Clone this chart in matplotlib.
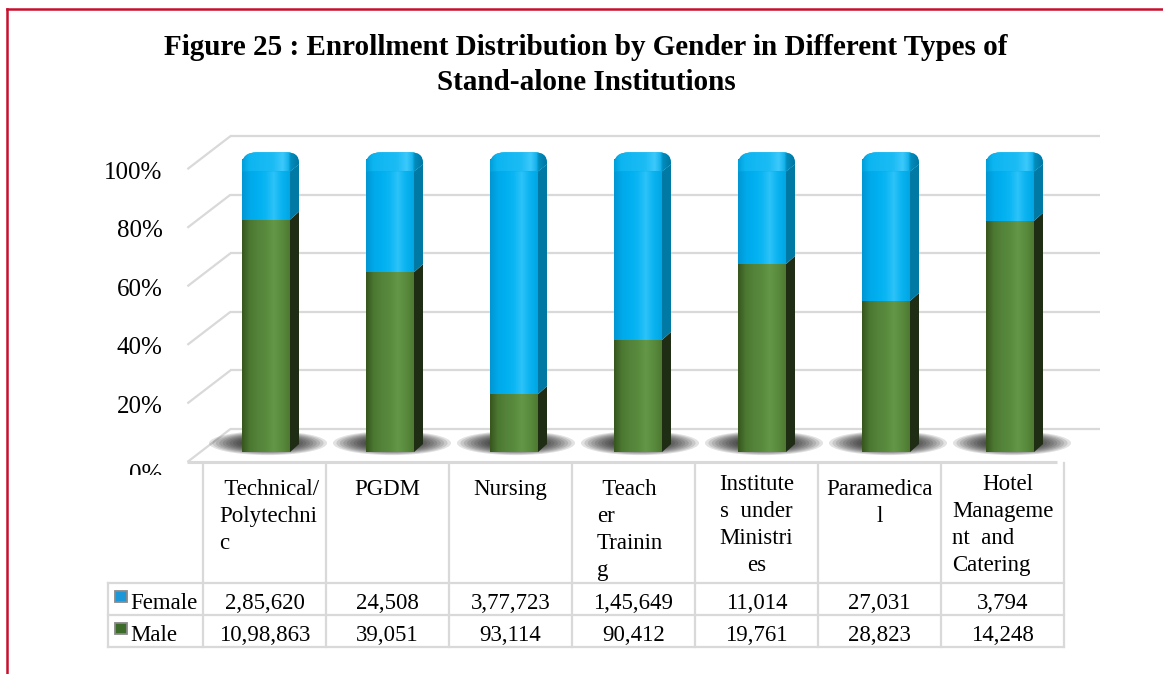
import numpy as np
import matplotlib
matplotlib.use("Agg")
import matplotlib.pyplot as plt
from matplotlib.patches import Rectangle, Polygon, Ellipse, PathPatch
from matplotlib.path import Path
from matplotlib.colors import LinearSegmentedColormap
from matplotlib.lines import Line2D
from matplotlib.transforms import Bbox, TransformedBbox, blended_transform_factory

# ---------------- data ----------------
title = ("Figure 25 : Enrollment Distribution by Gender in Different Types of\n"
         "Stand-alone Institutions")
categories = ["Technical/Polytechnic", "PGDM", "Nursing", "Teacher Training",
              "Institutes under Ministries", "Paramedical",
              "Hotel Management and Catering"]
header_lines = [[" Technical/", "Polytechni", "c"],
                ["PGDM"],
                ["Nursing"],
                [" Teach", "er", "Trainin", "g"],
                ["Institute", "s  under", "Ministri", "es"],
                ["Paramedica", "l"],
                ["Hotel", "Manageme", "nt  and", "Catering"]]
series_names = ["Female", "Male"]
female = np.array([285620, 24508, 377723, 145649, 11014, 27031, 3794], float)
male = np.array([1098863, 39051, 93114, 90412, 19761, 28823, 14248], float)
female_labels = ["2,85,620", "24,508", "3,77,723", "1,45,649", "11,014", "27,031", "3,794"]
male_labels = ["10,98,863", "39,051", "93,114", "90,412", "19,761", "28,823", "14,248"]
ytick_values = [0, 20, 40, 60, 80, 100]
ytick_labels = ["0%", "20%", "40%", "60%", "80%", "100%"]

male_pct = 100 * male / (male + female)
female_pct = 100 - male_pct

# ---------------- style ----------------
SERIF = "Liberation Serif"
GRID = "#D9D9D9"
GREEN = "#548235"
GREEN_SIDE = "#1F2D14"
BLUE = "#00B0F0"
BLUE_SIDE = "#0079A4"
GREEN_PROFILE = ["#36561F", "#4C7931", "#54833A", "#598A3D", "#639847", "#5A8B3D", "#4D7A31"]
BLUE_PROFILE = ["#0096D2", "#00A9EA", "#00B0F0", "#0CB6F3", "#2CC3F9", "#0AB3F0", "#00A6E4"]
CAP_PROFILE = [(0.0, "#009ED8"), (0.12, "#0DB5F0"), (0.55, "#1CBCF5"), (0.72, "#3CC9FB"),
               (0.82, "#14B2EC"), (0.86, "#008CBC"), (1.0, "#0076A2")]

W_PX, H_PX = 1163, 674
fig = plt.figure(figsize=(W_PX / 100, H_PX / 100), dpi=100)
fig.patch.set_facecolor("white")

# ---------------- main (bar) axes ----------------
XMIN, XMAX, YMIN, YMAX = -1, 7, -8.5, 110
AX_W, AX_H = 992, 347
ax = fig.add_axes([142 / W_PX, 1 - 477 / H_PX, AX_W / W_PX, AX_H / H_PX])
ax.axis("off")
ux = (XMAX - XMIN) / AX_W   # data units per pixel (x)
uy = (YMAX - YMIN) / AX_H   # data units per pixel (y)

DX, DY = 43 * ux, 33 * uy     # depth of the 3-D box
XL, XR = -0.53, 6.48          # box extent in the bar plane
n = len(categories)
x = np.arange(n)

# back wall gridlines + left wall diagonals + floor
gkw = dict(color=GRID, lw=1.6, solid_capstyle="butt", zorder=1)
for v in ytick_values:
    yb, yf = v + 0.7 * DY, v - 0.3 * DY
    ax.plot([XL + 0.7 * DX, XR + 0.7 * DX], [yb, yb], **gkw)
    ax.plot([XL - 0.3 * DX, XL + 0.7 * DX], [yf, yb], **gkw)
ax.plot([XL - 0.3 * DX, XR - 0.3 * DX], [-0.3 * DY, -0.3 * DY], color=GRID, lw=2.2,
        solid_capstyle="butt", zorder=1)

# y tick labels
clip_trans = blended_transform_factory(fig.transFigure, ax.transData)
for v, lab in zip(ytick_values, ytick_labels):
    yf = v - 0.3 * DY
    if v == 0:
        t = ax.text(XL - 0.3 * DX - 25 * ux, yf - 19 * uy, lab, ha="right", va="baseline",
                    fontsize=18, family=SERIF, color="black")
        clip = TransformedBbox(Bbox([[0, yf - 13 * uy], [1, YMAX]]), clip_trans)
        t.set_clip_box(clip)
        t.set_clip_on(True)
    else:
        ax.text(XL - 0.3 * DX - 25 * ux, yf - 9.5 * uy, lab, ha="right", va="baseline",
                fontsize=18, family=SERIF, color="black")

# floor shadows
for i in x:
    for k in range(14):
        s = 1 - k * 0.058
        ax.add_patch(Ellipse((i + 2 * ux, 9 * uy), 118 * s * ux, 24 * s * uy,
                             facecolor="#111111", alpha=0.12, lw=0, zorder=2))

# bars (front faces)
bw = 48 * ux
male_bars = ax.bar(x, male_pct, width=bw, color=GREEN, lw=0, zorder=3)
female_bars = ax.bar(x, female_pct, bottom=male_pct, width=bw, color=BLUE, lw=0, zorder=3)

grad = np.linspace(0, 1, 128).reshape(1, -1)
cm_green = LinearSegmentedColormap.from_list("g", GREEN_PROFILE)
cm_blue = LinearSegmentedColormap.from_list("b", BLUE_PROFILE)
cm_cap = LinearSegmentedColormap.from_list("c", CAP_PROFILE)


def shade(bar, cmap):
    x0, y0 = bar.get_x(), bar.get_y()
    w, h = bar.get_width(), bar.get_height()
    im = ax.imshow(grad, cmap=cmap, extent=(x0, x0 + w, y0, y0 + h), aspect="auto",
                   interpolation="bilinear", zorder=3.1)
    im.set_clip_path(bar)


for b in male_bars:
    shade(b, cm_green)
for b in female_bars:
    shade(b, cm_blue)

# side faces
sx, sy = 9 * ux, 8 * uy
for i in x:
    xr = i + bw / 2
    m = male_pct[i]
    ax.add_patch(Polygon([(xr, 0), (xr + sx, sy), (xr + sx, m + sy), (xr, m)],
                         closed=True, facecolor=GREEN_SIDE, lw=0, zorder=3.2))
    ax.add_patch(Polygon([(xr, m), (xr + sx, m + sy), (xr + sx, 100 - 5 * uy), (xr, 100 - 12 * uy)],
                         closed=True, facecolor=BLUE_SIDE, lw=0, zorder=3.2))

# rounded caps
Wc, Sc = 48, 9
cap_pts = [(0, -12), (0, -6), (0, 7), (15, 7), (Wc - 3, 7), (Wc + Sc, 7), (Wc + Sc, -4),
           (Wc + Sc, -5), (Wc, -12), (0, -12)]
cap_codes = [Path.MOVETO, Path.LINETO, Path.CURVE3, Path.CURVE3, Path.LINETO, Path.CURVE3,
             Path.CURVE3, Path.LINETO, Path.LINETO, Path.CLOSEPOLY]
for i in x:
    x0 = i - bw / 2
    verts = [(x0 + px * ux, 100 + py * uy) for px, py in cap_pts]
    patch = PathPatch(Path(verts, cap_codes), facecolor=BLUE, lw=0, zorder=3.3)
    ax.add_patch(patch)
    im = ax.imshow(grad, cmap=cm_cap,
                   extent=(x0, x0 + (Wc + Sc) * ux, 100 - 12 * uy, 100 + 7 * uy),
                   aspect="auto", interpolation="bilinear", zorder=3.35)
    im.set_clip_path(patch)

ax.set_xlim(XMIN, XMAX)
ax.set_ylim(YMIN, YMAX)

# ---------------- data table ----------------
COL_PX, ROW_PX, LAB_PX, HEAD_PX = 123, 32, 95, 184 - 64
tab = fig.add_axes([108 / W_PX, 1 - 647 / H_PX, (1064 - 108) / W_PX, 184 / H_PX])
tab.axis("off")
TX0 = -0.5 - LAB_PX / COL_PX
TYT = 2 + HEAD_PX / ROW_PX
tab.set_xlim(TX0, n - 0.5)
tab.set_ylim(0, TYT)
tux, tuy = 1 / COL_PX, 1 / ROW_PX

lkw = dict(color=GRID, lw=1.6, clip_on=False, solid_capstyle="projecting")
for yy in (0, 1, 2):
    tab.plot([TX0, n - 0.5], [yy, yy], **lkw)
tab.plot([TX0, TX0], [0, 2], **lkw)
for j in range(n + 1):
    tab.plot([j - 0.5, j - 0.5], [0, TYT], **lkw)

FS = 16.5
header_align = ["left", "center", "center", "left", "center", "center", "left"]
header_pad = [16, 0, 0, 25, 0, 0, 11]
header_first = [32, 32, 32, 32, 27, 32, 27]
for j, lines in enumerate(header_lines):
    for k, line in enumerate(lines):
        yb = TYT - (header_first[j] + 27 * k) * tuy
        if header_align[j] == "left" and not (j == 6 and k == 0):
            tab.text(j - 0.5 + header_pad[j] * tux, yb, line, ha="left", va="baseline",
                     fontsize=FS, family=SERIF)
        else:
            tab.text(j + (5 * tux if j == 6 else 0), yb, line, ha="center", va="baseline",
                     fontsize=FS, family=SERIF)

for row_y, labels in ((1, female_labels), (0, male_labels)):
    for j, lab in enumerate(labels):
        tab.text(j, row_y + 6 * tuy, lab, ha="center", va="baseline", fontsize=FS, family=SERIF)

key_colors = {"Female": "#1C98D8", "Male": "#3D6B2A"}
for row_y, name in ((1, "Female"), (0, "Male")):
    tab.add_patch(Rectangle((TX0 + 7 * tux, row_y + 13 * tuy), 12 * tux, 11 * tuy,
                            facecolor=key_colors[name], edgecolor="#8A8A8A", lw=1.3,
                            clip_on=False, zorder=3))
    tab.text(TX0 + 22 * tux, row_y + 6 * tuy, name, ha="left", va="baseline",
             fontsize=FS, family=SERIF)

# ---------------- title & frame ----------------
fig.text(586 / W_PX, 1 - 65 / H_PX, title, ha="center", va="center", fontsize=21,
         fontweight="bold", family=SERIF, linespacing=1.38)

fig.add_artist(Line2D([7 / W_PX, 7 / W_PX], [0, 1 - 9 / H_PX], color="#C8102E", lw=1.8))
fig.add_artist(Line2D([7 / W_PX, 1], [1 - 9 / H_PX, 1 - 9 / H_PX], color="#C8102E", lw=1.8))

fig.savefig("out.png", dpi=100, facecolor="white")
